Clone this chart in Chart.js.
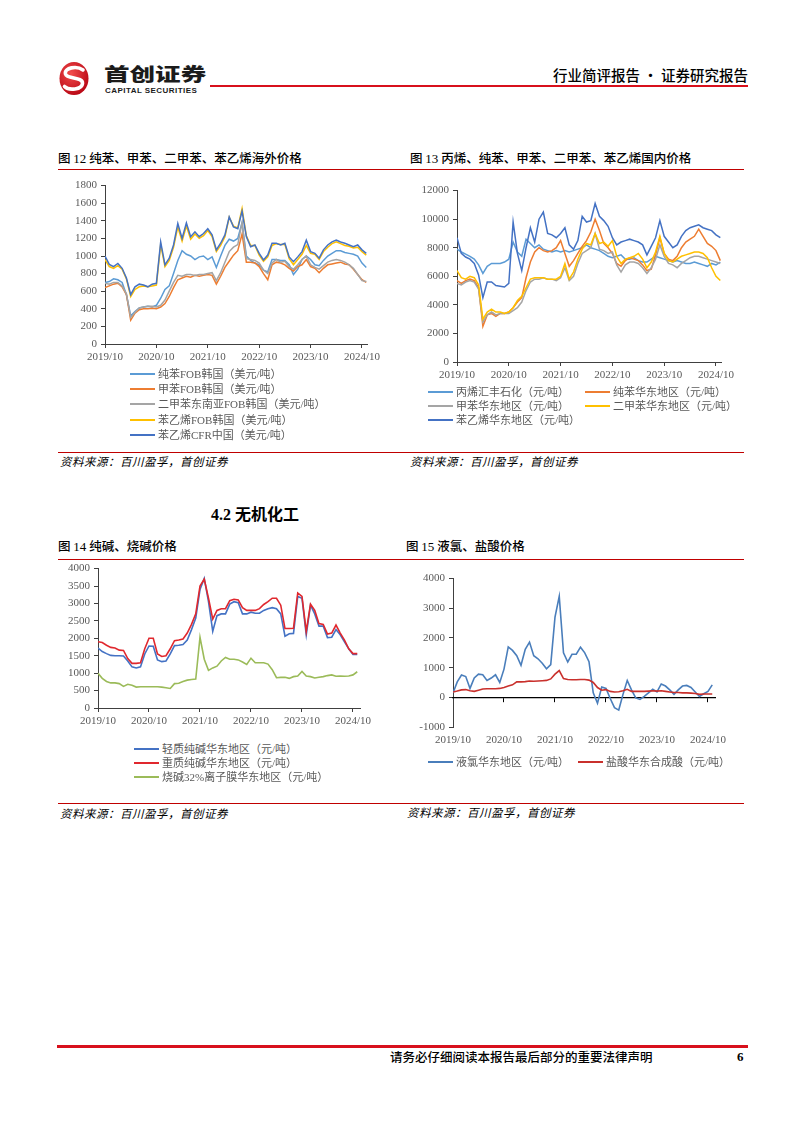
<!DOCTYPE html>
<html lang="zh-CN">
<head>
<meta charset="UTF-8">
<title>行业简评报告</title>
<script src="https://cdn.jsdelivr.net/npm/chart.js"></script>
<style>
  body { margin: 0; background: #fff; }
  .page {
    position: relative; width: 802px; height: 1133px; background: #fff; overflow: hidden;
    font-family: "Liberation Serif", "Noto Sans CJK SC", serif; color: #000;
  }
  .abs { position: absolute; white-space: nowrap; }
  .red { position: absolute; background: #c00000; height: 1px; }
  .title { position: absolute; font-family: "Noto Sans CJK SC", sans-serif; font-size: 12.5px; font-weight: 500; line-height: 16px; white-space: nowrap; }
  .title b { font-family: "Liberation Serif"; font-weight: normal; font-size: 13px; }
  .source { position: absolute; font-family: "Noto Sans CJK SC", sans-serif; font-style: italic; font-size: 11.5px; line-height: 14px; white-space: nowrap; letter-spacing: 0.5px; }
  .lg { position: absolute; height: 14px; line-height: 14px; font-size: 11px; color: #595959; white-space: nowrap;
        font-family: "Liberation Serif", "Noto Sans CJK SC", serif; }
  .lg i { display: inline-block; width: 25px; height: 2px; vertical-align: middle; margin-right: 3px; position: relative; top: -1px; }
  canvas { position: absolute; }
</style>
</head>
<body>
<div class="page" id="page">
  <!-- header -->
  <svg class="abs" style="left:58px;top:61px" width="32" height="35" viewBox="0 0 32 35">
    <defs>
      <radialGradient id="rg" cx="40%" cy="35%" r="75%">
        <stop offset="0" stop-color="#f24b4b"/>
        <stop offset="1" stop-color="#b3000f"/>
      </radialGradient>
    </defs>
    <ellipse cx="16" cy="17.5" rx="14.5" ry="16.5" fill="url(#rg)"/>
    <path d="M25 9 C19 4.5, 6 6.5, 7.5 13 C9 18.5, 25 15.5, 24.5 22.5 C24 28.5, 11 30, 6.5 25.5" stroke="#fff" stroke-width="3.6" fill="none" stroke-linecap="round"/>
  </svg>
  <div class="abs" style="left:104px;top:62px;font-family:'Noto Sans CJK SC';font-weight:900;font-size:18px;line-height:22px;color:#1b1b1b;transform:scaleX(1.42);transform-origin:left;">首创证券</div>
  <div class="abs" style="left:105px;top:86px;font-family:'Liberation Sans';font-weight:bold;font-size:8px;line-height:9px;color:#1b1b1b;letter-spacing:0.45px;">CAPITAL SECURITIES</div>
  <div class="red" style="left:210px;top:85px;width:538px;height:2px;background:#d8101c;"></div>
  <div class="abs" style="right:54px;top:66px;font-family:'Noto Sans CJK SC';font-weight:500;font-size:14.5px;line-height:18px;">行业简评报告 · 证券研究报告</div>

  <!-- row 1 -->
  <div class="title" style="left:58px;top:150px;">图 <b>12</b> 纯苯、甲苯、二甲苯、苯乙烯海外价格</div>
  <div class="title" style="left:410px;top:150px;">图 <b>13</b> 丙烯、纯苯、甲苯、二甲苯、苯乙烯国内价格</div>
  <div class="red" style="left:58px;top:169px;width:686px;"></div>
  <canvas id="c12" width="332" height="195" style="left:60px;top:175px;"></canvas>
  <canvas id="c13" width="336" height="206" style="left:410px;top:180px;"></canvas>
  <div class="red" style="left:58px;top:452px;width:686px;"></div>
  <div class="source" style="left:60px;top:454px;">资料来源：百川盈孚，首创证券</div>
  <div class="source" style="left:410px;top:454px;">资料来源：百川盈孚，首创证券</div>

  <!-- section -->
  <div class="abs" style="left:211px;top:505px;font-family:'Liberation Serif','Noto Sans CJK SC';font-weight:bold;font-size:16px;line-height:20px;">4.2 无机化工</div>

  <!-- row 2 -->
  <div class="title" style="left:58px;top:538px;">图 <b>14</b> 纯碱、烧碱价格</div>
  <div class="title" style="left:406px;top:538px;">图 <b>15</b> 液氯、盐酸价格</div>
  <div class="red" style="left:58px;top:559px;width:686px;"></div>
  <canvas id="c14" width="327" height="174" style="left:58px;top:558px;"></canvas>
  <canvas id="c15" width="335" height="183" style="left:405px;top:568px;"></canvas>
  <div class="red" style="left:58px;top:803px;width:686px;"></div>
  <div class="source" style="left:60px;top:806px;">资料来源：百川盈孚，首创证券</div>
  <div class="source" style="left:407px;top:805px;">资料来源：百川盈孚，首创证券</div>

  <!-- footer -->
  <div class="red" style="left:57px;top:1045px;width:691px;height:3px;background:#d8101c;"></div>
  <div class="abs" style="left:390px;top:1049px;font-family:'Noto Sans CJK SC';font-weight:500;font-size:12.5px;line-height:15px;">请务必仔细阅读本报告最后部分的重要法律声明</div>
  <div class="abs" style="left:737px;top:1049px;font-weight:bold;font-size:13px;line-height:15px;">6</div>
</div>

<script>
// x axis: months counted from 2019/10, one tick per year
const xLabels = ["2019/10", "2020/10", "2021/10", "2022/10", "2023/10", "2024/10"];
const yearTicks = [0, 12, 24, 36, 48, 60];

// 图12 海外价格（美元/吨），月度
const c12Benzene = [
  700, 710, 740, 730, 700, 560, 320, 370, 410, 420,
  430, 420, 440, 520, 620, 660, 800, 950, 1060, 1020,
  1000, 960, 990, 1000, 960, 990, 870, 1000, 1120, 1190,
  1170, 1200, 1380, 1000, 950, 920, 900, 840, 820, 960,
  960, 950, 950, 900, 790, 850, 960, 1000, 960, 900,
  890, 950, 1000, 1030, 1060, 1060, 1040, 1030, 1020, 1000,
  920, 870
];
const c12Toluene = [
  640, 660, 680, 690, 650, 560, 270, 350, 390, 400,
  400, 405, 400, 420, 460, 540, 640, 730, 750, 770,
  760, 780, 770, 780, 790, 780, 680, 770, 870, 940,
  1010, 1060, 1250, 930, 930, 920, 880, 800, 730, 900,
  930, 920, 900, 860, 830, 880, 900, 960, 880, 860,
  810, 860, 900, 910, 920, 930, 910, 900, 850, 790,
  730, 700
];
const c12Xylene = [
  690, 680, 700, 700, 660, 570, 300, 360, 410, 420,
  430, 430, 420, 440, 500, 600, 700, 780, 770, 790,
  790, 780, 790, 790, 800, 810, 720, 810, 930, 1050,
  1100, 1130, 1380, 970, 960, 950, 920, 840, 800, 920,
  960, 930, 940, 880, 850, 900, 960, 1000, 900, 870,
  850, 890, 930, 950, 960, 950, 930, 900, 860, 790,
  720, 710
];
const c12StyreneKr = [
  960, 880, 860, 890, 850, 740, 540, 620, 650, 660,
  650, 660, 670, 1130, 880, 950, 1100, 1330, 1170, 1340,
  1190, 1250, 1200, 1230, 1290, 1220, 1050, 1120, 1220, 1440,
  1340, 1320, 1540, 1230, 1120, 1120, 1010, 940, 990, 1120,
  1140, 1130, 1130, 970, 900, 960, 1020, 1120, 1030, 1020,
  960, 1050, 1100, 1140, 1160, 1140, 1120, 1110, 1090, 1100,
  1050, 1010
];
const c12StyreneCn = [
  1000, 905, 880, 915, 860, 750, 560, 650, 680, 670,
  650, 680, 690, 1160, 900, 975, 1125, 1370, 1200, 1375,
  1220, 1275, 1220, 1255, 1310, 1240, 1070, 1145, 1240, 1445,
  1330, 1310, 1510, 1220, 1105, 1125, 1030, 955, 1010, 1145,
  1145, 1125, 1145, 990, 935, 990, 1050, 1180, 1050, 1030,
  975, 1070, 1125, 1160, 1180, 1160, 1145, 1125, 1105, 1125,
  1070, 1030
];

// 图13 国内价格（元/吨），月度
const c13Propylene = [
  7900, 7700, 7550, 7400, 7200, 6800, 6200, 6700, 6900, 6900,
  6900, 7000, 7200, 8400, 7700, 7400, 8600, 8300, 8000, 8200,
  7900, 7800, 7700, 7800, 7700, 7800, 7700, 7800, 7900, 8000,
  8200, 8000, 7900, 7800, 7600, 7400, 7300, 7400, 7500, 7200,
  7200, 7300, 7100, 7000, 7000, 7200, 7400, 7300, 7200, 7100,
  7000, 7100, 7000, 6900, 6900, 7000, 6900, 6800, 6700, 6900,
  6800, 7000
];
const c13Benzene = [
  5700, 5500, 5700, 5800, 5700, 5200, 2500, 3300, 3400, 3200,
  3400, 3400, 3500, 3800, 4200, 4500, 5900, 7000, 7700, 8000,
  7800, 7700, 7800, 8000, 8500, 7600, 6700, 7100, 7600, 8100,
  8500, 9100, 10000, 9200, 8300, 8000, 7600, 6900, 6700, 7100,
  7300, 7200, 7100, 6800, 6400, 6500, 7500, 8700, 7600, 7200,
  7100, 7400, 8000, 8400, 8600, 8800, 9300, 8800, 8300, 8100,
  7800, 7100
];
const c13Toluene = [
  5500, 5400, 5600, 5700, 5600, 5100, 2800, 3300, 3500, 3300,
  3400, 3400, 3400, 3600, 3800, 4200, 5000, 5600, 5800, 5800,
  5900, 5800, 5800, 5700, 5900, 6600, 5700, 6000, 6900, 7600,
  7800, 8000, 9000, 7900, 7800, 7600, 7700, 6800, 6300, 6800,
  7000, 7000, 6900, 6600, 6200, 6600, 7200, 8200, 7400, 6900,
  6800, 6600, 6900, 7100, 7300, 7400, 7400, 7300, 7200, 7100,
  7000, 6900
];
const c13Xylene = [
  6400, 5900, 5800, 6000, 5900, 5400, 3000, 3500, 3700, 3500,
  3500, 3400, 3500, 3800, 4300, 4600, 5200, 5800, 5900, 5900,
  5900, 5800, 5800, 5800, 6000, 6900, 5800, 6300, 7200, 7900,
  8300, 8200, 9000, 8300, 8400, 8100, 8500, 7400, 6900, 7200,
  7300, 7400, 7600, 7200, 6600, 7000, 7700, 8800, 7600, 7100,
  7000, 7200, 7400, 7500, 7600, 7700, 7700, 7600, 7300, 6600,
  6000, 5700
];
const c13Styrene = [
  8700, 7600, 7350, 7200, 6900, 6100, 4500, 5600, 5600, 5350,
  5300, 5250, 5500, 9800, 7600, 6400, 8000, 9400, 8400, 10000,
  10500, 9000, 8900, 8700, 9000, 9400, 8200, 7900, 8500, 10200,
  9800, 9900, 11100, 10200, 9900, 9500, 8700, 8200, 8400, 8500,
  8600, 8500, 8400, 8200, 7500, 8100, 8700, 9900, 8800, 8400,
  8000, 8200, 8800, 9200, 9400, 9500, 9600, 9400, 9300, 9200,
  8900, 8700
];

// 图14 纯碱、烧碱（元/吨），月度
const c14Light = [
  1720, 1620, 1560, 1510, 1500, 1500, 1490, 1350, 1180, 1150,
  1180, 1550, 1780, 1770, 1380, 1330, 1350, 1550, 1790, 1800,
  1820, 1950, 2250, 2580, 3400, 3720, 3050, 2200, 2650, 2700,
  2700, 2980, 3050, 3020, 2700, 2700, 2750, 2720, 2720, 2800,
  2850, 2880, 2850, 2700, 2060, 2130, 2140, 3200, 3150, 2100,
  2950, 2700, 2350, 2350, 2020, 2030, 2250, 2100, 1900, 1700,
  1540, 1540
];
const c14Heavy = [
  1900, 1880, 1800, 1740, 1720, 1660, 1650, 1420, 1280, 1280,
  1300, 1700, 2000, 2000, 1550, 1480, 1500, 1700, 1930, 1950,
  1980, 2150, 2400, 2700, 3500, 3700, 3150, 2550, 2800, 2850,
  2850, 3080, 3120, 3100, 2880, 2800, 2800, 2800, 2850, 2970,
  3050, 3150, 3150, 2950, 2280, 2280, 2290, 3300, 3200, 2200,
  2980, 2800, 2420, 2400, 2120, 2150, 2380, 2150, 1950, 1700,
  1560, 1560
];
const c14Caustic = [
  1000, 850, 760, 720, 720, 700, 620, 680, 650, 600,
  610, 610, 610, 610, 610, 600, 580, 560, 700, 710,
  760, 800, 820, 830, 2030, 1400, 1080, 1150, 1200, 1350,
  1450, 1400, 1400, 1380, 1320, 1250, 1430, 1300, 1300, 1300,
  1260, 1100, 870, 880, 880, 850, 900, 920, 1050, 920,
  900, 860, 880, 900, 930, 950, 910, 920, 910, 920,
  950, 1040
];

// 图15 液氯、盐酸（元/吨），月度
const c15Chlorine = [
  150, 520, 750, 700, 300, 650, 780, 760, 570, 650,
  760, 500, 950, 1700, 1580, 1400, 1080, 1620, 1860, 1400,
  1300, 1150, 960, 1100, 2700, 3400, 1500, 1190, 1450, 1450,
  1690, 1500, 1200, 150, -200, 350, 300, -40, -350, -430,
  100, 570, 250, -20, -70, 30, 150, 270, 180, 450,
  380, 250, 100, 250, 380, 400, 330, 180, 30, 120,
  200, 420
];
const c15Hcl = [
  180, 210, 250, 260, 220, 200, 240, 280, 290, 290,
  290, 300, 330, 380, 420, 520, 520, 530, 550, 540,
  550, 560, 570, 620, 780, 900, 630, 600, 590, 590,
  600, 600, 580, 500, 330, 240, 260, 200, 180, 190,
  220, 270, 200, 200, 200, 200, 210, 220, 210, 220,
  200, 180, 160, 160, 150, 150, 140, 130, 100, 110,
  110, 110
];

const axisColor = "#404040";
const tickFont = { family: "Liberation Serif", size: 11 };
const tickColor = "#595959";

function lineChart(id, series, o) {
  const n = series.length;
  const xScale = (extra) => Object.assign({
    type: "linear", min: 0, max: o.xMax,
    afterBuildTicks: s => { s.ticks = yearTicks.map(v => ({ value: v })); },
    afterFit: s => { s.height = o.xHeight; },
    ticks: { callback: (v, i) => xLabels[i], font: tickFont, color: tickColor, padding: 3, maxRotation: 0, autoSkip: false },
    grid: { drawOnChartArea: false, drawTicks: true, tickLength: 4, tickColor: axisColor },
    border: { color: axisColor, width: 1 }
  }, extra || {});
  const scales = {
    x: xScale(o.zeroAxis ? {
      grid: { drawOnChartArea: false, drawTicks: true, tickLength: 4, tickColor: "rgba(0,0,0,0)" },
      border: { display: false }
    } : null),
    y: {
      min: o.yMin, max: o.yMax,
      afterBuildTicks: s => {
        const t = [];
        for (let v = o.yMin; v <= o.yMax; v += o.yStep) t.push({ value: v });
        s.ticks = t;
      },
      afterFit: s => { s.width = o.yWidth; },
      ticks: { font: tickFont, color: tickColor, padding: 4, callback: v => String(v) },
      grid: { drawOnChartArea: false, drawTicks: true, tickLength: 4, tickColor: axisColor },
      border: { color: axisColor, width: 1 }
    }
  };
  if (o.zeroAxis) {
    scales.x2 = xScale({
      position: { y: 0 },
      ticks: { display: false },
      grid: { drawOnChartArea: false, drawTicks: true, tickLength: 4, tickColor: "#000" },
      border: { color: "#000", width: 1.2 }
    });
  }
  return new Chart(document.getElementById(id), {
    type: "line",
    data: {
      datasets: series.map((s, i) => ({
        label: s.name,
        data: s.values.map((v, k) => ({ x: k, y: v })),
        borderColor: s.color,
        borderWidth: o.lineWidth,
        pointRadius: 0,
        tension: 0,
        fill: false,
        order: n - i
      }))
    },
    options: {
      responsive: false,
      animation: false,
      events: [],
      layout: { padding: { top: o.padTop, right: o.padRight, left: 0, bottom: 0 } },
      plugins: { legend: { display: false }, tooltip: { enabled: false } },
      scales: scales
    }
  });
}

function legend(items) {
  const page = document.getElementById("page");
  items.forEach(it => {
    const d = document.createElement("div");
    d.className = "lg";
    d.style.left = it.x + "px";
    d.style.top = (it.y - 7) + "px";
    d.innerHTML = '<i style="background:' + it.color + '"></i>' + it.name;
    page.appendChild(d);
  });
}

const s12 = [
  { name: "纯苯FOB韩国（美元/吨）", color: "#5B9BD5", values: c12Benzene },
  { name: "甲苯FOB韩国（美元/吨）", color: "#ED7D31", values: c12Toluene },
  { name: "二甲苯东南亚FOB韩国（美元/吨）", color: "#A5A5A5", values: c12Xylene },
  { name: "苯乙烯FOB韩国（美元/吨）", color: "#FFC000", values: c12StyreneKr },
  { name: "苯乙烯CFR中国（美元/吨）", color: "#4472C4", values: c12StyreneCn }
];
const s13 = [
  { name: "丙烯汇丰石化（元/吨）", color: "#5B9BD5", values: c13Propylene },
  { name: "纯苯华东地区（元/吨）", color: "#ED7D31", values: c13Benzene },
  { name: "甲苯华东地区（元/吨）", color: "#A5A5A5", values: c13Toluene },
  { name: "二甲苯华东地区（元/吨）", color: "#FFC000", values: c13Xylene },
  { name: "苯乙烯华东地区（元/吨）", color: "#4472C4", values: c13Styrene }
];
const s14 = [
  { name: "轻质纯碱华东地区（元/吨）", color: "#4472C4", values: c14Light },
  { name: "重质纯碱华东地区（元/吨）", color: "#E0282E", values: c14Heavy },
  { name: "烧碱32%离子膜华东地区（元/吨）", color: "#9BBB59", values: c14Caustic }
];
const s15 = [
  { name: "液氯华东地区（元/吨）", color: "#4A7EBB", values: c15Chlorine },
  { name: "盐酸华东合成酸（元/吨）", color: "#C9302C", values: c15Hcl }
];

lineChart("c12", s12, { xMax: 61.17, yMin: 0, yMax: 1800, yStep: 200, yWidth: 45, xHeight: 26, padTop: 10, padRight: 25, lineWidth: 1.5 });
lineChart("c13", s13, { xMax: 61.16, yMin: 0, yMax: 12000, yStep: 2000, yWidth: 47, xHeight: 24, padTop: 9, padRight: 25, lineWidth: 1.5 });
lineChart("c14", s14, { xMax: 61.65, yMin: 0, yMax: 4000, yStep: 500, yWidth: 40, xHeight: 24, padTop: 9, padRight: 25, lineWidth: 1.6 });
lineChart("c15", s15, { xMax: 61.65, yMin: -1000, yMax: 4000, yStep: 500, yWidth: 48, xHeight: 24, padTop: 10, padRight: 25, lineWidth: 1.6, zeroAxis: true });

legend([0, 1, 2, 3, 4].map(i => ({ name: s12[i].name, color: s12[i].color, x: 130, y: [374, 389, 404, 420, 435][i] })));
legend([
  { name: s13[0].name, color: s13[0].color, x: 428, y: 392 },
  { name: s13[1].name, color: s13[1].color, x: 585, y: 392 },
  { name: s13[2].name, color: s13[2].color, x: 428, y: 406 },
  { name: s13[3].name, color: s13[3].color, x: 585, y: 406 },
  { name: s13[4].name, color: s13[4].color, x: 428, y: 420 }
]);
legend([0, 1, 2].map(i => ({ name: s14[i].name, color: s14[i].color, x: 134, y: [749, 763, 777][i] })));
legend([
  { name: s15[0].name, color: s15[0].color, x: 428, y: 762 },
  { name: s15[1].name, color: s15[1].color, x: 578, y: 762 }
]);
</script>
</body>
</html>
